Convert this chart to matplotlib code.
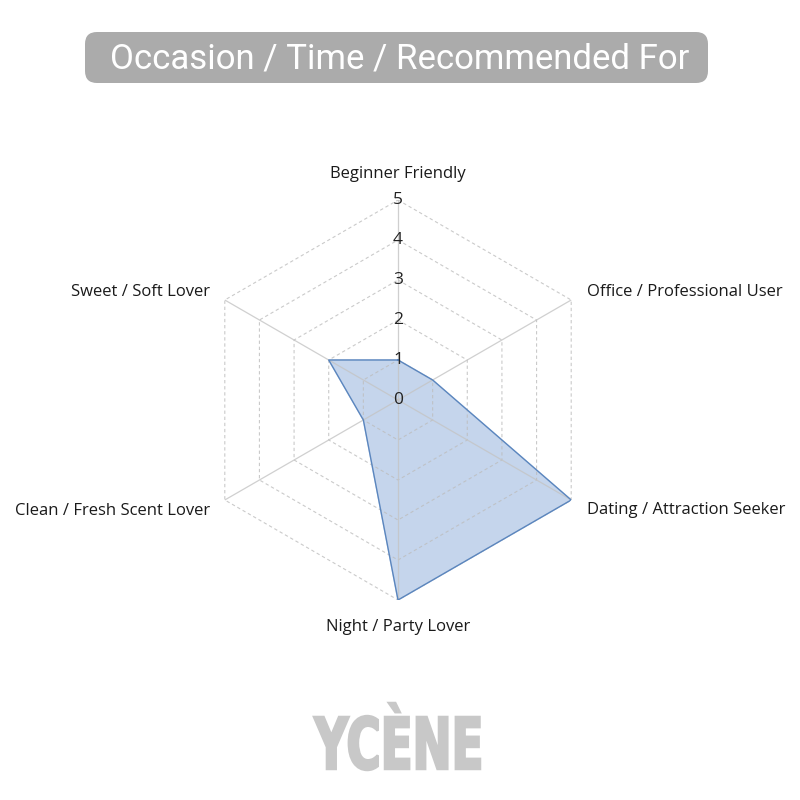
import numpy as np
import matplotlib
matplotlib.use("Agg")
import matplotlib.pyplot as plt
from matplotlib.patches import FancyBboxPatch, PathPatch
from matplotlib.textpath import TextPath
from matplotlib.font_manager import FontProperties
from matplotlib.transforms import Affine2D

categories = ["Beginner Friendly", "Office / Professional User", "Dating / Attraction Seeker",
              "Night / Party Lover", "Clean / Fresh Scent Lover", "Sweet / Soft Lover"]
values = [1, 1, 5, 5, 1, 2]
ticks = [0, 1, 2, 3, 4, 5]
title = "Occasion / Time / Recommended For"
brand = "YCÈNE"

fig = plt.figure(figsize=(8, 8), dpi=100)
fig.patch.set_facecolor("white")

W, H = 800, 800
def fx(px): return px / W
def fy(py): return 1 - py / H

# title box
box = FancyBboxPatch((fx(85), fy(83)), fx(708) - fx(85), fy(32) - fy(83),
                     boxstyle="round,pad=0,rounding_size=0.015",
                     transform=fig.transFigure, facecolor="#ababab", edgecolor="none")
fig.patches.append(box)
fig.text(fx(400), fy(59), title, ha="center", va="center", color="white",
         fontsize=25, family="Roboto")

cx, cy, R = 398, 400, 200
ax = fig.add_axes([fx(cx - R), fy(cy + R), 2 * R / W, 2 * R / H], projection="polar")
ax.set_theta_offset(np.pi / 2)
ax.set_theta_direction(-1)
ax.set_ylim(0, 5)
ax.grid(False)
ax.set_xticks([])
ax.set_yticks([])
ax.spines["polar"].set_visible(False)
ax.patch.set_alpha(0)

n = len(categories)
angles = np.arange(n) * 2 * np.pi / n
ang_closed = np.append(angles, angles[0])

vals_closed = values + values[:1]
ax.fill(ang_closed, vals_closed, color="#c5d5ec", alpha=1.0, zorder=1)

for t in ticks[1:]:
    ax.plot(ang_closed, [t] * (n + 1), color="#bdbdbd", lw=0.8, ls=(0, (3, 2.5)),
            alpha=0.8, zorder=2)
for a in angles:
    ax.plot([a, a], [0, ticks[-1]], color="#c4c4c4", lw=0.9, alpha=0.8, zorder=2)

ax.plot(ang_closed, vals_closed, color="#5b86be", lw=1.0, zorder=3)

for t in ticks:
    ax.text(0, t, str(t), ha="center", va="center", fontsize=12.5, color="#222222",
            family="Open Sans", zorder=4)

# category labels
label_pos = [(398, 174, "center"), (587, 292, "left"), (587, 510, "left"),
             (398, 627, "center"), (210, 511, "right"), (210, 292, "right")]
for (px, py, ha), lab in zip(label_pos, categories):
    fig.text(fx(px), fy(py), lab, ha=ha, va="center", fontsize=12,
             color="#1a1a1a", family="Open Sans")

# brand logo (condensed by horizontal scaling)
tp = TextPath((0, 0), brand, size=100, prop=FontProperties(family="DejaVu Sans", weight="heavy"))
ext = tp.get_extents()
x0, x1, ytop, ybot = 314, 480, 703, 770
sx = (fx(x1) - fx(x0)) / ext.width
sy = (fy(ytop) - fy(ybot)) / ext.height
tr = Affine2D().translate(-ext.x0, -ext.y0).scale(sx, sy).translate(fx(x0), fy(ybot))
logo = PathPatch(tp, transform=tr + fig.transFigure, facecolor="#c8c8c8", edgecolor="#c8c8c8",
                 lw=1.8)
fig.patches.append(logo)

fig.savefig("out.png", dpi=100, facecolor="white")
